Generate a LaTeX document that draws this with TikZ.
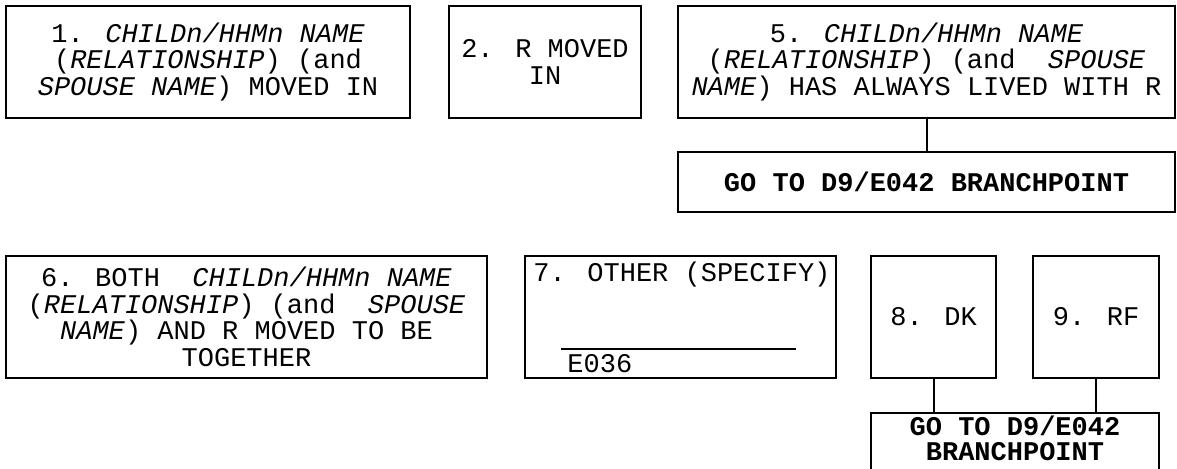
\documentclass[tikz,border=0pt]{standalone}
\usepackage{fontspec}
\setmainfont{Liberation Mono}
\begin{document}
\begin{tikzpicture}[x=0.5pt,y=-0.5pt,
  box/.style={draw,line width=1pt,inner sep=0pt,align=center,
    font=\fontsize{13.5}{13.25}\selectfont},
  lbl/.style={inner sep=0pt,font=\fontsize{13.5}{13.25}\selectfont},
  conn/.style={line width=1pt}]
\useasboundingbox (0,0) rectangle (1177,469);
% top row
\node[box,minimum width=202pt,minimum height=56pt] (b1) at (208,62)
  {1. \textit{CHILDn/HHMn NAME}\\(\textit{RELATIONSHIP}) (and\\\textit{SPOUSE NAME}) MOVED IN};
\node[box,minimum width=96pt,minimum height=56pt] (b2) at (545,62)
  {2. R MOVED\\IN};
\node[box,minimum width=248.5pt,minimum height=56pt] (b5) at (926.5,62)
  {5. \textit{CHILDn/HHMn NAME}\\(\textit{RELATIONSHIP}) (and~ \textit{SPOUSE}\\\textit{NAME}) HAS ALWAYS LIVED WITH R};
\node[box,minimum width=248.5pt,minimum height=30pt] (g1) at (926.5,182)
  {\textbf{GO TO D9/E042 BRANCHPOINT}};
\draw[conn] (b5.south) -- (g1.north);
% bottom row
\node[box,minimum width=240.5pt,minimum height=61pt] (b6) at (246.5,317)
  {6. BOTH~ \textit{CHILDn/HHMn NAME}\\(\textit{RELATIONSHIP}) (and~ \textit{SPOUSE}\\\textit{NAME}) AND R MOVED TO BE\\TOGETHER};
\node[box,minimum width=155.5pt,minimum height=61pt] (b7) at (680.5,317) {};
\node[lbl,anchor=base west] (t7) at (533,282) {7. OTHER (SPECIFY)};
\coordinate (u1) at (561,349);
\coordinate (u2) at (796,349);
\draw[conn] (u1) -- (u2);
\node[lbl,anchor=base west] (e7) at (567,373) {E036};
\node[box,minimum width=62.5pt,minimum height=61pt] (b8) at (933.5,317) {8. DK};
\node[box,minimum width=63pt,minimum height=61pt] (b9) at (1096,317) {9. RF};
\node[box,minimum width=144pt,minimum height=40pt,anchor=north] (g2) at (1015,412) {};
\node[lbl,align=center,font=\fontsize{13.5}{12.5}\selectfont,anchor=base] (g2t) at (1015,461)
  {\textbf{GO TO D9/E042}\\\textbf{BRANCHPOINT}};
\draw[conn] (b8.south) -- (b8.south |- g2.north);
\draw[conn] (b9.south) -- (b9.south |- g2.north);
\end{tikzpicture}
\end{document}
